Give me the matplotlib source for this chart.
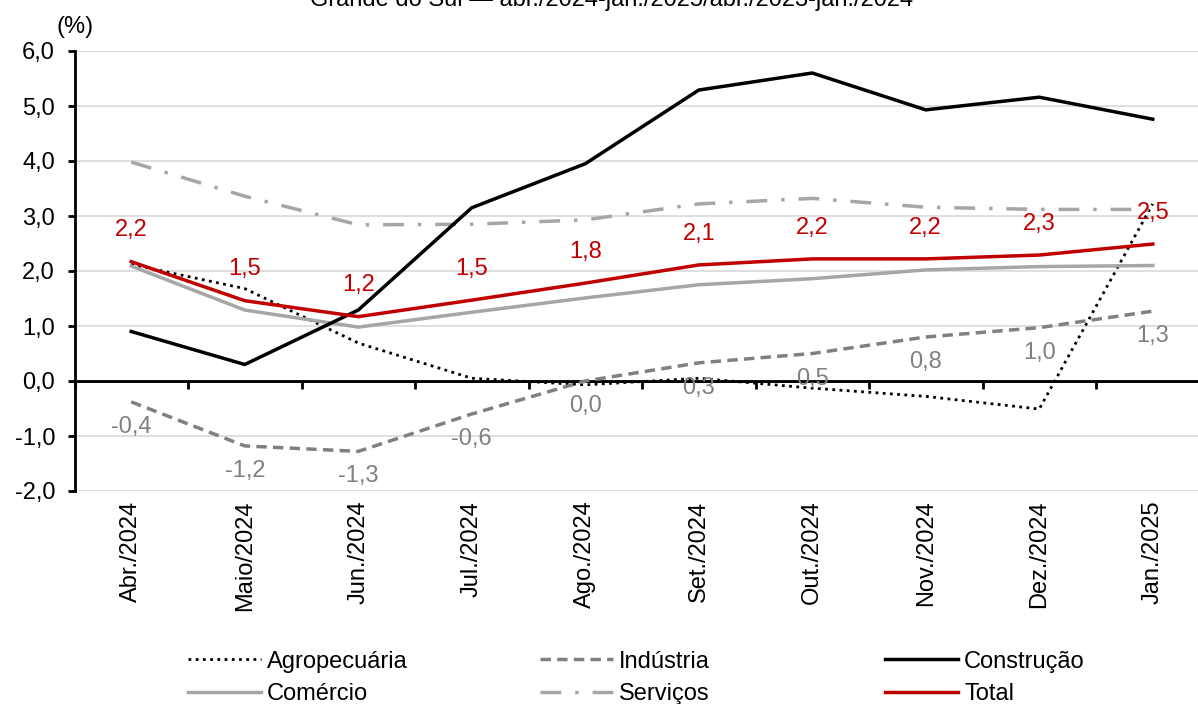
import numpy as np
import matplotlib
matplotlib.use("Agg")
import matplotlib.pyplot as plt

plt.rcParams['font.family'] = ['Liberation Sans', 'DejaVu Sans']
FS = 17

# dados (% variação)
meses = ['Abr./2024', 'Maio/2024', 'Jun./2024', 'Jul./2024', 'Ago./2024',
         'Set./2024', 'Out./2024', 'Nov./2024', 'Dez./2024', 'Jan./2025']
agro = [2.12, 1.68, 0.69, 0.05, -0.07, 0.05, -0.13, -0.28, -0.51, 3.22]
industria = [-0.38, -1.18, -1.28, -0.60, 0.00, 0.33, 0.50, 0.80, 0.97, 1.27]
construcao = [0.90, 0.30, 1.29, 3.15, 3.95, 5.29, 5.60, 4.93, 5.16, 4.76]
comercio = [2.09, 1.29, 0.98, 1.25, 1.51, 1.75, 1.86, 2.02, 2.08, 2.10]
servicos = [3.98, 3.36, 2.84, 2.85, 2.93, 3.22, 3.32, 3.16, 3.12, 3.12]
total = [2.17, 1.46, 1.17, 1.47, 1.78, 2.11, 2.22, 2.22, 2.29, 2.49]

yticks = [-2, -1, 0, 1, 2, 3, 4, 5, 6]

W, H = 1198, 704
fig = plt.figure(figsize=(W / 100, H / 100), dpi=100)
ax = fig.add_axes([74.5 / W, (H - 491) / H, 1135 / W, 440 / H])

x = np.arange(len(meses))
RED = '#C00000'
GREY = '#808080'
LGREY = '#A6A6A6'

l_agro, = ax.plot(x, agro, color='black', lw=2, linestyle=(0, (1, 1.6)))
l_com, = ax.plot(x, comercio, color=LGREY, lw=2.5)
l_ind, = ax.plot(x, industria, color=GREY, lw=2.5, linestyle=(0, (3, 1.8)))
l_serv, = ax.plot(x, servicos, color=LGREY, lw=2.5, linestyle=(0, (6, 4, 1, 4)))
l_cons, = ax.plot(x, construcao, color='black', lw=2.5)
l_tot, = ax.plot(x, total, color=RED, lw=2.5)

def fmt(v):
    return f'{v:.1f}'.replace('.', ',').replace('-0,0', '0,0')

for xi, v in zip(x, total):
    ax.annotate(fmt(v), (xi, v), xytext=(0, 22.5), textcoords='offset points',
                ha='center', va='center', color=RED, fontsize=FS)
for xi, v in zip(x, industria):
    ax.annotate(fmt(v), (xi, v), xytext=(0, -18), textcoords='offset points',
                ha='center', va='center', color=GREY, fontsize=FS)

ax.set_xlim(-0.5, len(meses) - 0.5)
ax.set_ylim(-2, 6)
ax.set_yticks(yticks)
ax.set_yticklabels([fmt(v) for v in yticks], fontsize=FS)
ax.yaxis.grid(True, color='#D9D9D9', lw=1.2)
ax.set_axisbelow(True)
ax.axhline(0, color='black', lw=2, zorder=1.5)

for s in ['top', 'right', 'bottom']:
    ax.spines[s].set_visible(False)
ax.spines['left'].set_linewidth(2)
ax.tick_params(axis='y', direction='out', length=5, width=2, pad=9)

# rótulos das categorias embaixo
ax.set_xticks(x)
ax.set_xticklabels(meses, rotation=90, fontsize=FS)
ax.tick_params(axis='x', length=0, pad=7)

# linha do zero com marcas entre categorias
sec = ax.secondary_xaxis(0.25)
sec.spines['bottom'].set_linewidth(2)
sec.set_xticks(np.arange(len(meses) + 1) - 0.5)
sec.set_xticklabels([])
sec.tick_params(direction='out', length=6, width=2)

fig.text(75 / W, 1 - 27 / H, '(%)', ha='center', va='center', fontsize=FS)
fig.text(612 / W, 1 - 6 / H, 'Grande do Sul — abr./2024-jan./2025/abr./2023-jan./2024',
         ha='center', va='baseline', fontsize=FS)

# legenda em três colunas
cols = [([l_agro, l_com], ['Agropecuária', 'Comércio'], 188),
        ([l_ind, l_serv], ['Indústria', 'Serviços'], 540),
        ([l_cons, l_tot], ['Construção', 'Total'], 885)]
for hs, ls, x0 in cols:
    fig.legend(hs, ls, loc='center left', bbox_to_anchor=(x0 / W, 1 - 678 / H),
               frameon=False, fontsize=FS, handlelength=3.1, handletextpad=0.25,
               labelspacing=0.45, borderpad=0, borderaxespad=0)

fig.savefig('out.png', dpi=100)
